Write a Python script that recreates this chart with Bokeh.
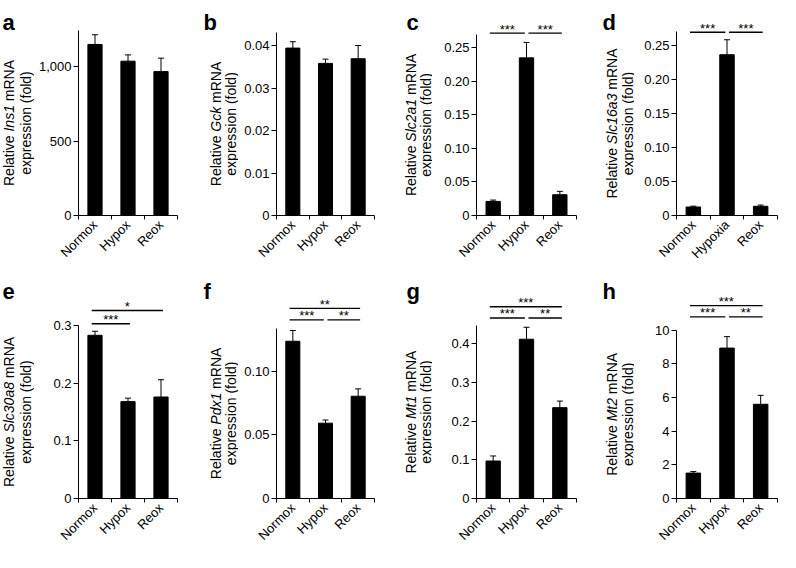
import math
from bokeh.plotting import figure
from bokeh.layouts import row, column
from bokeh.models import ColumnDataSource, FixedTicker, Label, Whisker, TeeHead, Range1d
from bokeh.embed import file_html
from bokeh.resources import INLINE

# ---------------- data ----------------
groups = ["Normox", "Hypox", "Reox"]
groups_d = ["Normox", "Hypoxia", "Reox"]
panel_letters = ["a", "b", "c", "d", "e", "f", "g", "h"]
genes = ["Ins1", "Gck", "Slc2a1", "Slc16a3", "Slc30a8", "Pdx1", "Mt1", "Mt2"]

ins1_mean = [1148, 1036, 966]
ins1_sem = [65, 42, 90]
gck_mean = [0.0394, 0.0358, 0.0369]
gck_sem = [0.0015, 0.0010, 0.0031]
slc2a1_mean = [0.021, 0.235, 0.031]
slc2a1_sem = [0.002, 0.023, 0.005]
slc16a3_mean = [0.0125, 0.236, 0.0135]
slc16a3_sem = [0.0012, 0.022, 0.0018]
slc30a8_mean = [0.283, 0.168, 0.176]
slc30a8_sem = [0.007, 0.006, 0.030]
pdx1_mean = [0.1238, 0.0593, 0.0805]
pdx1_sem = [0.0085, 0.0025, 0.0058]
mt1_mean = [0.097, 0.412, 0.235]
mt1_sem = [0.013, 0.031, 0.017]
mt2_mean = [1.51, 8.94, 5.60]
mt2_sem = [0.09, 0.68, 0.53]

ins1_ticks = [0, 500, 1000]
ins1_tick_labels = ["0", "500", "1,000"]
gck_ticks = [0, 0.01, 0.02, 0.03, 0.04]
gck_tick_labels = ["0", "0.01", "0.02", "0.03", "0.04"]
slc_ticks = [0, 0.05, 0.10, 0.15, 0.20, 0.25]
slc_tick_labels = ["0", "0.05", "0.10", "0.15", "0.20", "0.25"]
slc30a8_ticks = [0, 0.1, 0.2, 0.3]
slc30a8_tick_labels = ["0", "0.1", "0.2", "0.3"]
pdx1_ticks = [0, 0.05, 0.10]
pdx1_tick_labels = ["0", "0.05", "0.10"]
mt1_ticks = [0, 0.1, 0.2, 0.3, 0.4]
mt1_tick_labels = ["0", "0.1", "0.2", "0.3", "0.4"]
mt2_ticks = [0, 2, 4, 6, 8, 10]
mt2_tick_labels = ["0", "2", "4", "6", "8", "10"]

# y-range end (value at top of cell) and axis-line top for each panel
y_ends = [1443, 0.0506, 0.3205, 0.3156, 0.3971, 0.1803, 0.5924, 13.61]
axis_tops = [1242, 0.0431, 0.27, 0.27, 0.30, 0.134, 0.447, 10.0]

# significance comparisons: (group i, group j, stars, bracket level)
comparisons = [
    [],
    [],
    [(1, 2, "***", 0.272), (2, 3, "***", 0.272)],
    [(1, 2, "***", 0.269), (2, 3, "***", 0.269)],
    [(1, 2, "***", 0.303), (1, 3, "*", 0.326)],
    [(1, 2, "***", 0.1407), (2, 3, "**", 0.1407), (1, 3, "**", 0.1497)],
    [(1, 2, "***", 0.467), (2, 3, "**", 0.467), (1, 3, "***", 0.496)],
    [(1, 2, "***", 10.79), (2, 3, "**", 10.79), (1, 3, "***", 11.46)],
]

# ---------------- layout / style ----------------
FONT = "Liberation Sans"
col_w = [191, 191, 196, 202]
frame_w = [99, 98, 100, 101]
col_L = [78, 85, 94, 98]
lab_w = [34, 47, 50, 56]            # side strip holding letter + y label
row_h = [269, 283]
BOTTOM = 54
ylab_x = [(8, 25.5), (24.5, 39.5), (28.5, 43), (33.5, 49)]
letter_x = [2, 12, 24, 24]
letter_base = 22                    # baseline distance from top of cell

# Arial / Liberation Sans advance widths (per em)
ADV = {" ": .278, "R": .722, "e": .556, "l": .222, "a": .556, "t": .278, "i": .222,
       "v": .5, "I": .278, "n": .556, "s": .5, "1": .556, "G": .778, "c": .5, "k": .5,
       "S": .667, "2": .556, "6": .556, "3": .556, "0": .556, "8": .556, "P": .667,
       "d": .556, "x": .5, "M": .833, "m": .833, "N": .722, "A": .667}


def tw(s, size):
    return sum(ADV.get(ch, .556) for ch in s) * size


def make_panel(k):
    r, c = divmod(k, 4)
    means = [ins1_mean, gck_mean, slc2a1_mean, slc16a3_mean, slc30a8_mean, pdx1_mean, mt1_mean, mt2_mean][k]
    sems = [ins1_sem, gck_sem, slc2a1_sem, slc16a3_sem, slc30a8_sem, pdx1_sem, mt1_sem, mt2_sem][k]
    ticks = [ins1_ticks, gck_ticks, slc_ticks, slc_ticks, slc30a8_ticks, pdx1_ticks, mt1_ticks, mt2_ticks][k]
    tlabels = [ins1_tick_labels, gck_tick_labels, slc_tick_labels, slc_tick_labels,
               slc30a8_tick_labels, pdx1_tick_labels, mt1_tick_labels, mt2_tick_labels][k]
    cats = groups_d if k == 3 else groups

    H = row_h[r]
    FH = H - BOTTOM
    LW = lab_w[c]
    W = col_w[c] - LW
    L = col_L[c] - LW
    R = W - L - frame_w[c]

    # ---- main plot ----
    p = figure(width=W, height=H, x_range=Range1d(0.5, 3.5), y_range=Range1d(0, y_ends[k]),
               output_backend="svg", toolbar_location=None, tools="",
               min_border_left=L, min_border_right=R, min_border_top=0, min_border_bottom=BOTTOM)
    p.outline_line_color = None
    p.grid.visible = False

    xs = [1, 2, 3]
    src = ColumnDataSource(dict(x=xs, top=means, upper=[m + s for m, s in zip(means, sems)]))
    p.add_layout(Whisker(source=src, base="x", upper="upper", lower="top", dimension="height",
                         line_color="black", line_width=1,
                         upper_head=TeeHead(size=6, line_color="black", line_width=1),
                         lower_head=None))
    p.vbar(x="x", top="top", bottom=0, width=0.43, source=src,
           fill_color="black", line_color="black")

    xa = p.xaxis[0]
    xa.ticker = FixedTicker(ticks=xs, minor_ticks=[0.5, 1.5, 2.5, 3.5])
    xa.major_label_overrides = {x: lab for x, lab in zip(xs, cats)}
    xa.major_label_orientation = math.pi / 4
    xa.major_tick_line_color = None
    xa.major_tick_out = 4
    xa.major_tick_in = 0
    xa.minor_tick_line_color = "black"
    xa.minor_tick_out = 4
    xa.minor_tick_in = 0
    xa.bounds = (0.5, 3.5)
    xa.major_label_standoff = 3

    ya = p.yaxis[0]
    ya.ticker = FixedTicker(ticks=ticks)
    ya.major_label_overrides = {t: lab for t, lab in zip(ticks, tlabels)}
    ya.bounds = (0, axis_tops[k])
    ya.minor_tick_line_color = None
    ya.major_tick_out = 5
    ya.major_tick_in = 0
    ya.major_label_standoff = 2

    for ax in (xa, ya):
        ax.axis_line_color = "black"
        ax.axis_line_width = 1
        ax.major_tick_line_width = 1
        ax.major_label_text_font = FONT
        ax.major_label_text_font_size = "13px"
        ax.major_label_text_color = "black"

    # significance brackets
    comps = comparisons[k]
    x0s, x1s, ys = [], [], []
    for (i, j, stars, lv) in comps:
        a0 = i - 0.1 if i == 1 else i + 0.06
        shared = any(i2 == j and abs(lv2 - lv) < 1e-12 for (i2, j2, s2, lv2) in comps)
        a1 = j - 0.05 if shared else j + 0.06
        x0s.append(a0)
        x1s.append(a1)
        ys.append(lv)
        p.add_layout(Label(x=(a0 + a1) / 2, y=lv, y_offset=4, text=stars, text_font=FONT,
                           text_font_size="13px", text_align="center", text_baseline="alphabetic",
                           text_color="black"))
    if comps:
        p.segment(x0=x0s, y0=ys, x1=x1s, y1=ys, line_color="black", line_width=1.3)

    # ---- side strip with panel letter and two-line y label (pixel coordinates) ----
    s = figure(width=LW, height=H, x_range=Range1d(0, LW), y_range=Range1d(0, FH),
               output_backend="svg", toolbar_location=None, tools="",
               x_axis_location=None, y_axis_location=None,
               min_border_left=0, min_border_right=0, min_border_top=0, min_border_bottom=BOTTOM)
    s.outline_line_color = None
    s.grid.visible = False

    ymid = FH * axis_tops[k] / (2 * y_ends[k])
    size = 14
    parts = [("Relative", "normal"), (genes[k], "italic"), ("mRNA", "normal")]
    total = tw("Relative " + genes[k] + " mRNA", size)
    pos = -total / 2
    for txt, style in parts:
        s.add_layout(Label(x=ylab_x[c][0], y=ymid + pos, text=txt,
                           angle=math.pi / 2, text_align="left", text_baseline="middle",
                           text_font=FONT, text_font_style=style, text_font_size="14px",
                           text_color="black"))
        pos += tw(txt + " ", size)
    s.add_layout(Label(x=ylab_x[c][1], y=ymid, text="expression (fold)",
                       angle=math.pi / 2, text_align="center", text_baseline="middle",
                       text_font=FONT, text_font_size="14px", text_color="black"))
    s.add_layout(Label(x=letter_x[c], y=FH - letter_base, text=panel_letters[k],
                       text_font=FONT, text_font_style="bold", text_font_size="22px",
                       text_align="left", text_baseline="alphabetic", text_color="black"))
    return row(s, p)


cells = [make_panel(k) for k in range(8)]
layout = column(row(*cells[:4]), row(*cells[4:]))

open("out.html", "w").write(file_html(layout, INLINE))
